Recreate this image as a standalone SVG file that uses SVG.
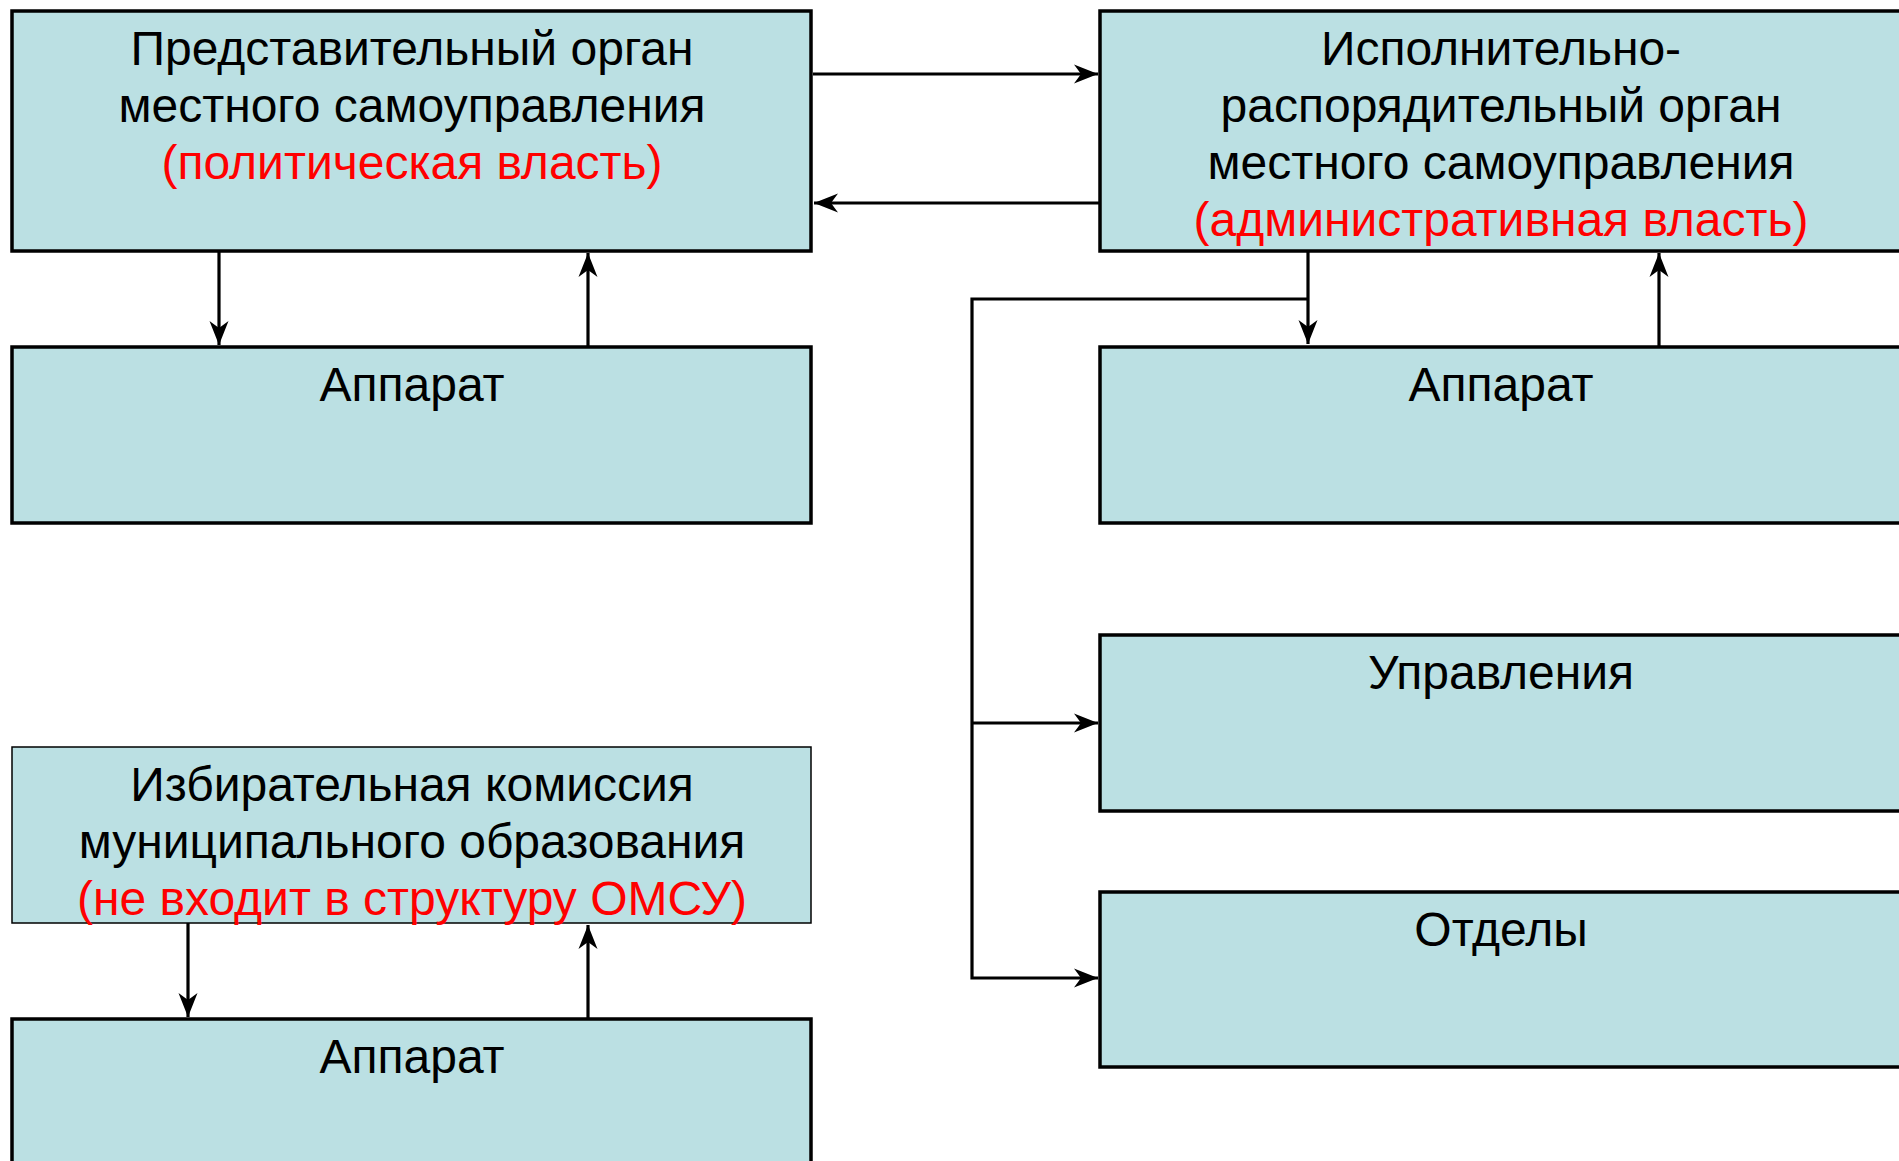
<svg xmlns="http://www.w3.org/2000/svg" width="1899" height="1161" viewBox="0 0 1899 1161">
<style>
.box{fill:#BBE0E3;stroke:#000;stroke-width:3.5}
.thin{fill:#BBE0E3;stroke:#000;stroke-width:1.5}
.t{font-family:"Liberation Sans",Arial,sans-serif;font-size:48px;fill:#000;text-anchor:middle}
.r{fill:#FF0000}
.c{fill:none;stroke:#000;stroke-width:3.2}
</style>
<defs>
<marker id="ah" markerUnits="userSpaceOnUse" markerWidth="30" markerHeight="24" viewBox="-26 -12 28 24" refX="0" refY="0" orient="auto">
<path d="M0,0 L-24,-9.5 L-17,0 L-24,9.5 Z" fill="#000"/>
</marker>
</defs>
<rect x="0" y="0" width="1899" height="1161" fill="#fff"/>
<g id="connectors">
<path class="c" d="M813,74 H1098" marker-end="url(#ah)"/>
<path class="c" d="M1100,203 H814" marker-end="url(#ah)"/>
<path class="c" d="M219,251 V345" marker-end="url(#ah)"/>
<path class="c" d="M588,347 V253" marker-end="url(#ah)"/>
<path class="c" d="M1308,251 V344" marker-end="url(#ah)"/>
<path class="c" d="M1659,347 V253" marker-end="url(#ah)"/>
<path class="c" d="M1308,299 H972 V978 H1098" marker-end="url(#ah)"/>
<path class="c" d="M972,723 H1098" marker-end="url(#ah)"/>
<path class="c" d="M188,923 V1017" marker-end="url(#ah)"/>
<path class="c" d="M588,1019 V925" marker-end="url(#ah)"/>
</g>
<g id="rep-organ">
<rect class="box" x="12" y="11" width="799" height="240"/>
<text class="t" x="412" y="65">Представительный орган</text>
<text class="t" x="412" y="122">местного самоуправления</text>
<text class="t r" x="412" y="179">(политическая власть)</text>
</g>
<g id="exec-organ">
<rect class="box" x="1100" y="11" width="802" height="240"/>
<text class="t" x="1501" y="65">Исполнительно-</text>
<text class="t" x="1501" y="122">распорядительный орган</text>
<text class="t" x="1501" y="179">местного самоуправления</text>
<text class="t r" x="1501" y="236">(административная власть)</text>
</g>
<g id="apparat-rep">
<rect class="box" x="12" y="347" width="799" height="176"/>
<text class="t" x="412" y="401">Аппарат</text>
</g>
<g id="apparat-exec">
<rect class="box" x="1100" y="347" width="802" height="176"/>
<text class="t" x="1501" y="401">Аппарат</text>
</g>
<g id="upravleniya">
<rect class="box" x="1100" y="635" width="802" height="176"/>
<text class="t" x="1501" y="689">Управления</text>
</g>
<g id="otdely">
<rect class="box" x="1100" y="892" width="802" height="175"/>
<text class="t" x="1501" y="946">Отделы</text>
</g>
<g id="izbirkom">
<rect class="thin" x="12" y="747" width="799" height="176"/>
<text class="t" x="412" y="801">Избирательная комиссия</text>
<text class="t" x="412" y="858">муниципального образования</text>
<text class="t r" x="412" y="915">(не входит в структуру ОМСУ)</text>
</g>
<g id="apparat-izbirkom">
<rect class="box" x="12" y="1019" width="799" height="160"/>
<text class="t" x="412" y="1073">Аппарат</text>
</g>
</svg>
